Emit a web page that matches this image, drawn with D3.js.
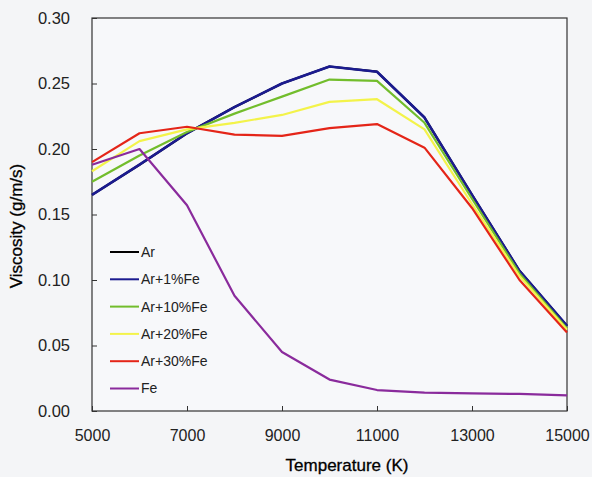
<!DOCTYPE html>
<html>
<head>
<meta charset="utf-8">
<script src="https://cdn.jsdelivr.net/npm/d3@7"></script>
<style>
  body { margin: 0; background: #f4f5f7; }
  svg { display: block; font-family: "Liberation Sans", Arial, sans-serif; }
</style>
</head>
<body>
<svg id="chart" width="592" height="477"></svg>
<script>
// temperatures (K)
const temps = [5000, 6000, 7000, 8000, 9000, 10000, 11000, 12000, 13000, 14000, 15000];

// viscosity (g/m/s) per mixture
const ar      = [0.165, 0.188, 0.212, 0.232, 0.250, 0.263, 0.259, 0.224, 0.165, 0.107, 0.065];
const ar1Fe   = [0.165, 0.188, 0.212, 0.232, 0.250, 0.263, 0.259, 0.224, 0.165, 0.107, 0.065];
const ar10Fe  = [0.175, 0.195, 0.213, 0.227, 0.240, 0.253, 0.252, 0.220, 0.162, 0.105, 0.063];
const ar20Fe  = [0.183, 0.206, 0.215, 0.220, 0.226, 0.236, 0.238, 0.215, 0.158, 0.103, 0.062];
const ar30Fe  = [0.190, 0.212, 0.217, 0.211, 0.210, 0.216, 0.219, 0.201, 0.155, 0.100, 0.060];
const fe      = [0.188, 0.200, 0.157, 0.088, 0.045, 0.024, 0.016, 0.014, 0.0135, 0.013, 0.012];

const seriesNames = ["Ar", "Ar+1%Fe", "Ar+10%Fe", "Ar+20%Fe", "Ar+30%Fe", "Fe"];
const seriesColors = ["#000000", "#1b1b8f", "#72bd2c", "#f3f34a", "#e42518", "#8a2b9c"];
const seriesValues = [ar, ar1Fe, ar10Fe, ar20Fe, ar30Fe, fe];

const xTicks = [5000, 7000, 9000, 11000, 13000, 15000];
const yTicks = [0, 0.05, 0.10, 0.15, 0.20, 0.25, 0.30];

const margin = { left: 92, top: 18, right: 25, bottom: 66 };
const W = 592, H = 477;

const svg = d3.select("#chart");

const x = d3.scaleLinear().domain([5000, 15000]).range([margin.left, W - margin.right]);
const y = d3.scaleLinear().domain([0, 0.30]).range([H - margin.bottom, margin.top]);

// plot frame
svg.append("rect")
    .attr("x", margin.left)
    .attr("y", margin.top)
    .attr("width", x.range()[1] - x.range()[0])
    .attr("height", y.range()[0] - y.range()[1])
    .attr("fill", "#f7f8fa")
    .attr("stroke", "#333")
    .attr("stroke-width", 1.2);

// axes (inward ticks)
const xAxis = svg.append("g")
    .attr("transform", `translate(0,${y(0)})`)
    .call(d3.axisBottom(x).tickValues(xTicks).tickSize(-5).tickPadding(19).tickFormat(d3.format("d")));
xAxis.select(".domain").remove();
xAxis.selectAll("line").attr("stroke", "#333");
xAxis.selectAll("text").attr("font-size", 16).attr("fill", "#222");

const yAxis = svg.append("g")
    .attr("transform", `translate(${x(5000)},0)`)
    .call(d3.axisLeft(y).tickValues(yTicks).tickSize(-5).tickPadding(22).tickFormat(d3.format(".2f")));
yAxis.select(".domain").remove();
yAxis.selectAll("line").attr("stroke", "#333");
yAxis.selectAll("text").attr("font-size", 16.5).attr("fill", "#222");

// lines
const line = d3.line()
    .x((d, i) => x(temps[i]))
    .y(d => y(d));

seriesValues.forEach((vals, i) => {
    svg.append("path")
        .datum(vals)
        .attr("fill", "none")
        .attr("stroke", seriesColors[i])
        .attr("stroke-width", i === 1 ? 2.6 : 2.2)
        .attr("stroke-linejoin", "round")
        .attr("d", line);
});

// legend
const legend = svg.append("g").attr("transform", "translate(110,252)");
seriesNames.forEach((name, i) => {
    const g = legend.append("g").attr("transform", `translate(0,${i * 27.3})`);
    g.append("line")
        .attr("x1", 0).attr("x2", 29)
        .attr("stroke", seriesColors[i])
        .attr("stroke-width", 2);
    g.append("text")
        .attr("x", 31)
        .attr("dy", "0.35em")
        .attr("font-size", 14)
        .attr("fill", "#222")
        .text(name);
});

// axis titles
svg.append("text")
    .attr("x", 347)
    .attr("y", 471)
    .attr("text-anchor", "middle")
    .attr("font-size", 17)
    .attr("fill", "#000")
    .attr("stroke", "#000")
    .attr("stroke-width", 0.3)
    .text("Temperature (K)");

svg.append("text")
    .attr("transform", "translate(22,226) rotate(-90)")
    .attr("text-anchor", "middle")
    .attr("font-size", 17)
    .attr("fill", "#000")
    .attr("stroke", "#000")
    .attr("stroke-width", 0.3)
    .text("Viscosity (g/m/s)");
</script>
</body>
</html>
